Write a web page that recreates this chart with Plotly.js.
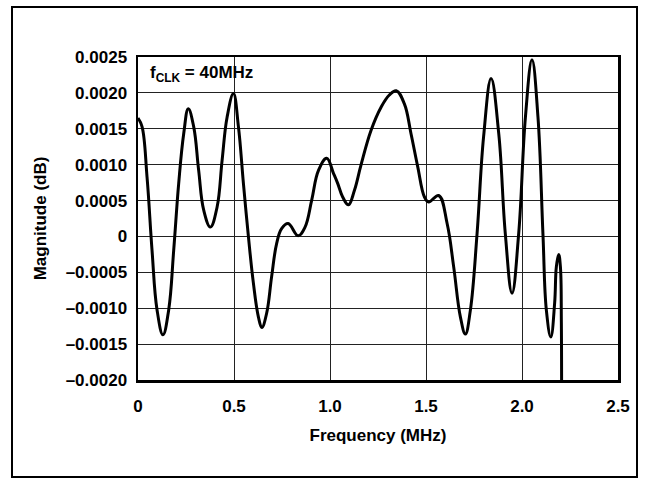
<!DOCTYPE html>
<html>
<head>
<meta charset="utf-8">
<script src="https://cdn.plot.ly/plotly-3.0.1.min.js"></script>
<style>html,body{margin:0;padding:0;background:#fff;}#chart{width:647px;height:485px;}</style>
</head>
<body>
<div id="chart"></div>
<script>
// Frequency (MHz)
const freq = [0.000,0.021,0.047,0.073,0.099,0.130,0.160,0.186,0.212,0.238,0.262,0.290,0.316,0.342,0.377,0.412,0.438,0.464,0.497,0.523,0.549,0.575,0.601,0.627,0.645,0.670,0.696,0.722,0.748,0.782,0.834,0.870,0.905,0.940,0.983,1.018,1.040,1.066,1.096,1.127,1.161,1.214,1.266,1.309,1.345,1.387,1.422,1.457,1.492,1.514,1.566,1.610,1.644,1.679,1.705,1.731,1.766,1.800,1.839,1.879,1.913,1.948,1.983,2.018,2.052,2.083,2.109,2.127,2.150,2.170,2.179,2.191,2.200,2.205,2.206];
// Magnitude (dB)
const magnitude = [0.00165,0.00153,0.00083,-0.00019,-0.00102,-0.00137,-0.00102,-0.00019,0.00074,0.00143,0.00178,0.00153,0.00092,0.00037,0.00013,0.00041,0.00106,0.00166,0.00199,0.00153,0.00074,0.00000,-0.00065,-0.00112,-0.00127,-0.00107,-0.00056,-0.00010,0.00011,0.00018,0.00001,0.00013,0.00051,0.00092,0.00109,0.00088,0.00074,0.00055,0.00044,0.00064,0.00099,0.00148,0.00180,0.00197,0.00203,0.00185,0.00143,0.00097,0.00055,0.00048,0.00057,0.00018,-0.00042,-0.00112,-0.00136,-0.00103,0.00004,0.00139,0.00220,0.00143,0.00004,-0.00079,0.00005,0.00167,0.00246,0.00167,0.00004,-0.00103,-0.00140,-0.00093,-0.00042,-0.00025,-0.00042,-0.00120,-0.00300];

const xTickVals = [0, 0.5, 1.0, 1.5, 2.0, 2.5];
const xTickText = ["0", "0.5", "1.0", "1.5", "2.0", "2.5"];
const yTickVals = [0.0025, 0.0020, 0.0015, 0.0010, 0.0005, 0, -0.0005, -0.0010, -0.0015, -0.0020];
const yTickText = ["0.0025", "0.0020", "0.0015", "0.0010", "0.0005", "0", "\u20130.0005", "\u20130.0010", "\u20130.0015", "\u20130.0020"];

const FONT = "Liberation Sans, Arial, Helvetica, sans-serif";

const trace = {
  x: freq, y: magnitude, type: "scatter", mode: "lines",
  line: {color: "#000", width: 3, shape: "spline", smoothing: 1.15},
  hoverinfo: "skip"
};

const L = 138, R = 29, T = 57, B = 105, W = 647, H = 485;
const pw = W - L - R, ph = H - T - B;
function px2paperX(px) { return (px - L) / pw; }
function py2paperY(py) { return (H - B - py) / ph; }

const layout = {
  width: W, height: H,
  margin: {l: L, r: R, t: T, b: B, pad: 0},
  paper_bgcolor: "#fff", plot_bgcolor: "#fff",
  showlegend: false,
  font: {family: FONT, size: 17, color: "#000"},
  xaxis: {
    range: [0, 2.5], tickvals: xTickVals, ticktext: xTickText,
    showgrid: true, gridcolor: "#222", gridwidth: 1,
    zeroline: false, showline: true, linecolor: "#000", linewidth: 2.5, mirror: true,
    ticks: "", ticklabelstandoff: 9,
    tickfont: {family: FONT, size: 17, color: "#000", weight: "bold"},
    title: {text: "Frequency (MHz)", font: {family: FONT, size: 17, color: "#000", weight: "bold"}, standoff: 14},
    fixedrange: true
  },
  yaxis: {
    range: [-0.002, 0.0025], tickvals: yTickVals, ticktext: yTickText,
    showgrid: true, gridcolor: "#222", gridwidth: 1,
    zeroline: false, showline: true, linecolor: "#000", linewidth: 2.5, mirror: true,
    ticks: "", ticklabelstandoff: 5,
    tickfont: {family: FONT, size: 17, color: "#000", weight: "bold"},
    title: {text: "Magnitude (dB)", font: {family: FONT, size: 17, color: "#000", weight: "bold"}, standoff: 15},
    fixedrange: true
  },
  annotations: [{
    xref: "x", yref: "y", x: 0.05, y: 0.00226, xanchor: "left", yanchor: "middle",
    text: "f<sub>CLK</sub> = 40MHz", showarrow: false,
    font: {family: FONT, size: 17, color: "#000", weight: "bold"}
  }],
  shapes: [{
    type: "rect", xref: "paper", yref: "paper",
    x0: px2paperX(12), x1: px2paperX(637), y0: py2paperY(477), y1: py2paperY(7),
    line: {color: "#000", width: 2}, fillcolor: "rgba(0,0,0,0)", layer: "below"
  }]
};

Plotly.newPlot("chart", [trace], layout, {displayModeBar: false, staticPlot: true});
</script>
</body>
</html>
